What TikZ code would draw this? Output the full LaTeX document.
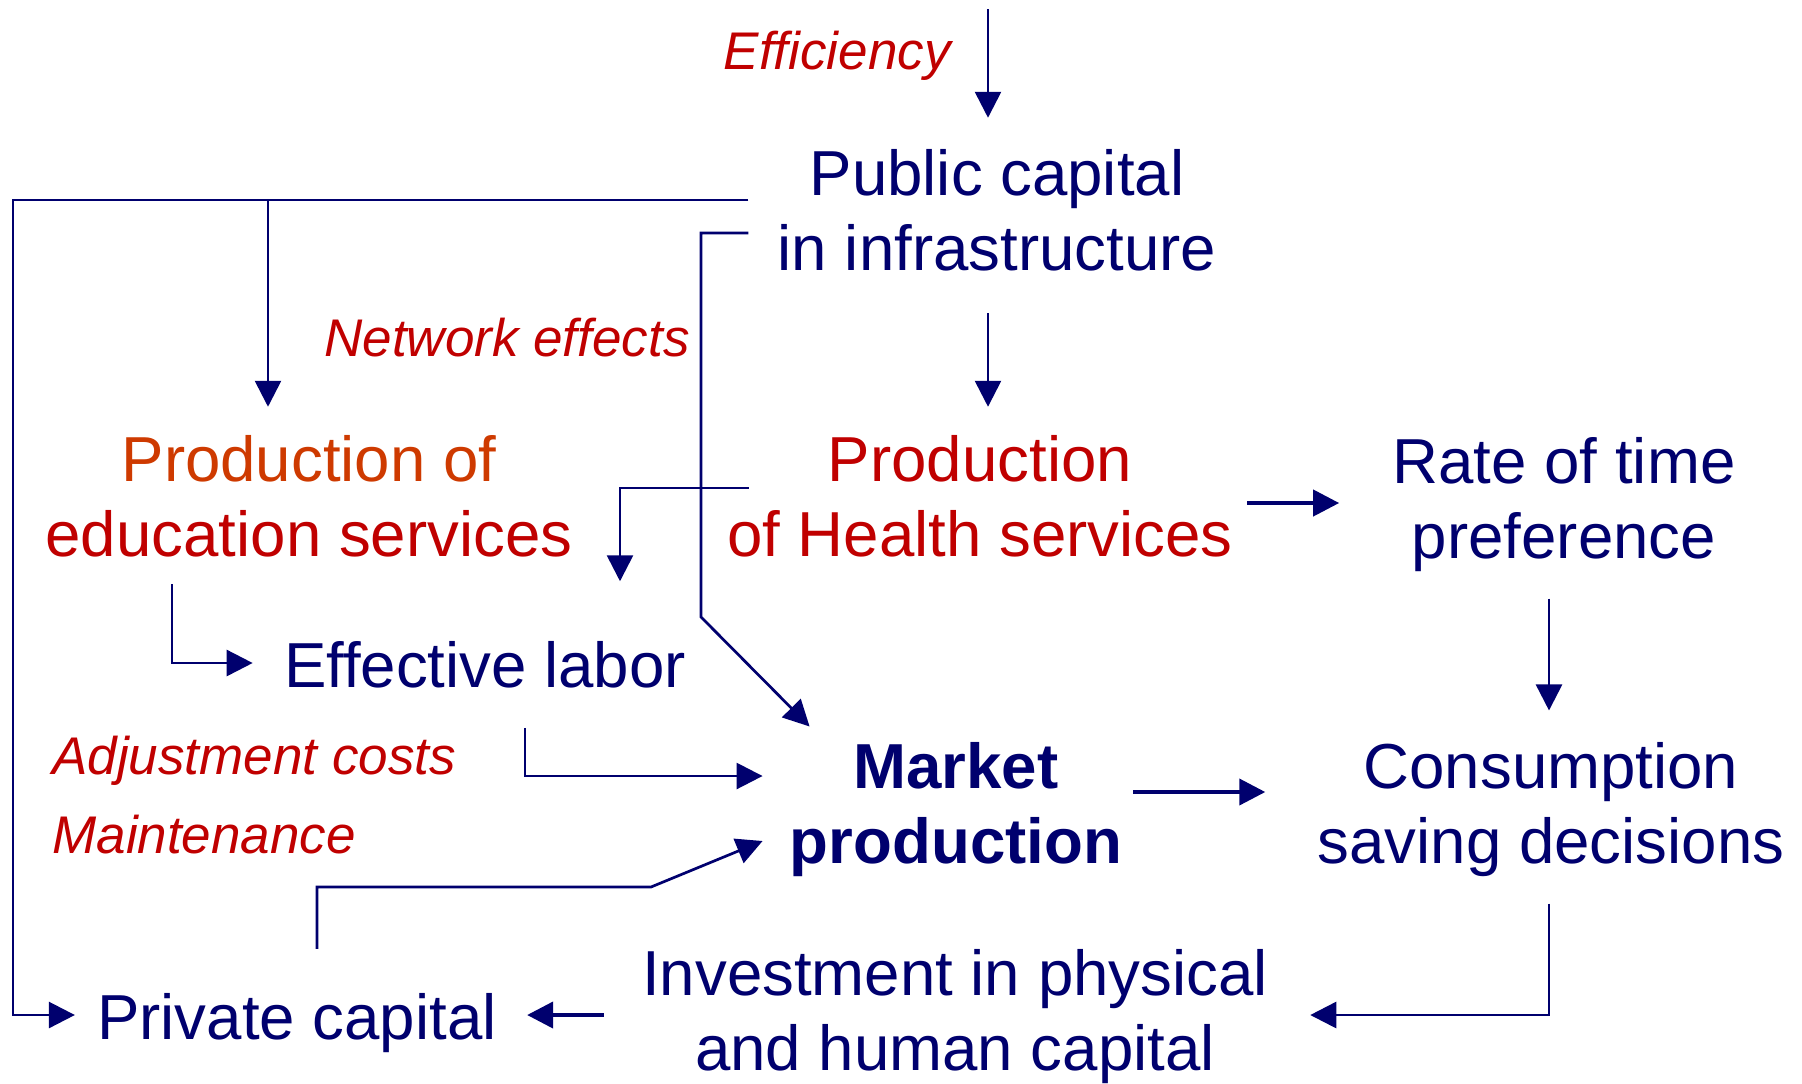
\documentclass[tikz,border=0pt]{standalone}
\usepackage{fontspec}
\setmainfont{Liberation Sans}
\usetikzlibrary{arrows.meta,calc}
\definecolor{inkblue}{RGB}{0,0,110}
\definecolor{darkred}{RGB}{192,0,0}
\definecolor{edorange}{RGB}{206,58,0}
\newcommand{\mainsize}{\fontsize{31.8pt}{37.5pt}\selectfont}
\tikzstyle{concept} = [inner sep=0pt, align=center, text=inkblue, font=\mainsize]
\tikzstyle{sector} = [concept, text=darkred]
\tikzstyle{factor} = [inner sep=0pt, text=darkred, font=\fontsize{26.5pt}{30pt}\selectfont\itshape]
\tikzstyle{link} = [draw=inkblue, line width=1.35pt, -{Triangle[length=13pt,width=13pt]}]
\tikzstyle{fatlink} = [link, line width=2pt]

\begin{document}
\begin{tikzpicture}[x=0.5pt,y=-0.5pt]
\useasboundingbox (0,0) rectangle (1802,1083);

\node[concept] (public) at (997,210) {Public capital\\in infrastructure};
\node[sector] (edu) at (309,496) {\textcolor{edorange}{Production of}\\education services};
\node[sector] (health) at (980,496) {Production\\of Health services};
\node[concept] (rate) at (1564,505) {Rate of time\\preference};
\node[concept] (labor) at (485,665) {Effective labor};
\node[concept, font=\mainsize\bfseries] (market) at (956,810) {Market\\production};
\node[concept] (consumption) at (1551,810) {Consumption\\saving decisions};
\node[concept] (invest) at (955,1017) {Investment in physical\\and human capital};
\node[concept] (private) at (297,1023) {Private capital};

\node[factor, anchor=east] (efficiency) at (951,56) {Efficiency};
\node[factor, anchor=east] (network) at (690,338) {Network effects};
\node[factor, anchor=west] (adjust) at (52,761) {Adjustment costs};
\node[factor, anchor=west] (maint) at (52,835) {Maintenance};

\coordinate (feed) at (988,9);
\coordinate (rim) at (13,200);
\coordinate (spur) at (268,200);
\coordinate (kink) at (701,617);
\coordinate (bend) at (651,887);

\draw[link, shorten >=15.5pt] (feed) -- (feed |- public.north);
\draw[link] ($(public.south)+(-9,42)$) -- ($(health.north)+(8,-28)$);
\draw[link] ($(public.west)+(-29,-10)$) -- (rim) |- ($(private.west)+(-22,-8)$);
\draw[link, shorten >=14pt] (spur) -- (spur |- edu.north);
\draw[link] ($(public.west)+(-29,23)$) -| (kink) -- ($(market.north west)+(20,-16)$);
\draw[link] ($(health.west)+(22,-8)$) -| ($(labor.north)+(135,-60)$);
\draw[fatlink] ($(health.east)+(14,7)$) -- ($(rate.west)+(-53,-2)$);
\draw[link] ($(edu.south)+(-137,27)$) |- ($(labor.west)+(-31,-2)$);
\draw[link] ($(labor.south)+(40,39)$) |- ($(market.west)+(-27,-34)$);
\draw[fatlink] ($(market.east)+(11,-18)$) -- ($(consumption.west)+(-52,-18)$);
\draw[link] ($(rate.south)+(-15,26)$) -- ($(consumption.north)+(-2,-32)$);
\draw[link] ($(consumption.south)+(-2,26)$) |- ($(invest.east)+(42,-2)$);
\draw[fatlink] ($(invest.west)+(-38,-2)$) -- ($(private.east)+(30,-8)$);
\draw[link] ($(private.north)+(20,-44)$) |- (bend) -- ($(market.west)+(-27,31)$);
\end{tikzpicture}
\end{document}
